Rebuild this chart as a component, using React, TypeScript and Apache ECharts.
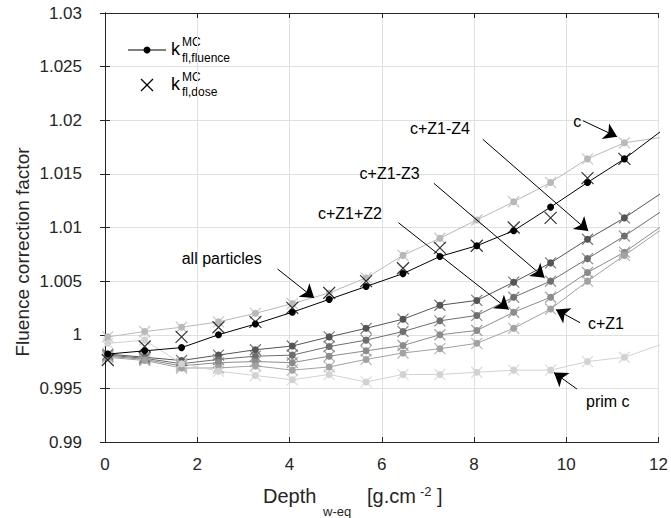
import React, { useEffect, useRef } from "react";
import * as echarts from "echarts";

// Depth (g/cm^2, water-equivalent)
const depth = [0.06, 0.86, 1.66, 2.46, 3.26, 4.06, 4.86, 5.66, 6.46, 7.26, 8.06, 8.86, 9.66, 10.46, 11.26, 12.06];

// all particles
const allFluence = [0.9982, 0.9985, 0.9988, 1.0, 1.001, 1.0021, 1.0033, 1.0045, 1.0057, 1.0073, 1.0083, 1.0097, 1.0119, 1.0142, 1.0164, 1.019];
const allDose = [0.99765, 0.9989, 0.9998, 1.0007, 1.0012, 1.0025, 1.0039, 1.005, 1.0062, 1.0081, 1.0083, 1.01, 1.0109, 1.0146, 1.0164];

// fragment contributions
const cVals = [0.9998, 1.0003, 1.0007, 1.0012, 1.002, 1.0029, 1.0039, 1.0053, 1.0074, 1.009, 1.0107, 1.0124, 1.0142, 1.0164, 1.0179, 1.0184];
const z4Vals = [0.9982, 0.9979, 0.9976, 0.9981, 0.9986, 0.99895, 0.9998, 1.0006, 1.00145, 1.00275, 1.0032, 1.0049, 1.0067, 1.0089, 1.0109, 1.0132];
const z3Vals = [0.9981, 0.9978, 0.9973, 0.9977, 0.998, 0.9981, 0.9989, 0.9995, 1.0003, 1.0013, 1.0018, 1.0035, 1.005, 1.0071, 1.0092, 1.0115];
const z12Vals = [0.998, 0.9977, 0.9971, 0.9974, 0.9975, 0.9974, 0.998, 0.9985, 0.999, 1.0, 1.0004, 1.0021, 1.0035, 1.0058, 1.0077, 1.0101];
const z1Vals = [0.9979, 0.9976, 0.9969, 0.9969, 0.9971, 0.9967, 0.997, 0.9977, 0.9983, 0.9987, 0.9992, 1.0006, 1.0024, 1.005, 1.0074, 1.0098];
const primVals = [0.9992, 0.9995, 0.9973, 0.9966, 0.9962, 0.9958, 0.9963, 0.9956, 0.9963, 0.9963, 0.9965, 0.9967, 0.9967, 0.9975, 0.9979, 0.9991];

const grayNames = ["c", "c+Z1-Z4", "c+Z1-Z3", "c+Z1+Z2", "c+Z1", "prim c"];
const grayData = [cVals, z4Vals, z3Vals, z12Vals, z1Vals, primVals];
const grayColors = ["#b9b9b9", "#555555", "#6f6f6f", "#8c8c8c", "#a2a2a2", "#d2d2d2"];

// annotations (data coordinates)
const labelTexts = ["all particles", "c+Z1+Z2", "c+Z1-Z3", "c+Z1-Z4", "c", "c+Z1", "prim c"];
const labelX = [2.53, 5.31, 6.17, 7.26, 10.24, 10.86, 10.9];
const labelY = [1.00713, 1.01135, 1.01508, 1.01925, 1.01993, 1.00109, 0.99382];
const arrowFromX = [3.74, 6.36, 7.13, 8.19, 10.36, 10.3, 10.23];
const arrowFromY = [1.00613, 1.01045, 1.01412, 1.01822, 1.01996, 1.00112, 0.99494];
const arrowToX = [4.535, 8.753, 9.529, 10.477, 11.103, 9.776, 9.733];
const arrowToY = [1.00342, 1.002345, 1.00531, 1.009664, 1.018457, 1.002345, 0.99648];

const xTickStep = 2;
const yTickStep = 0.005;

const FONT = "'Liberation Sans', Arial, Helvetica, sans-serif";
const XSYM = "path://M0,0L10,10M10,0L0,10";

export default function App() {
  const ref = useRef<HTMLDivElement>(null);
  useEffect(() => {
    if (!ref.current) return;
    const chart = echarts.init(ref.current, undefined, { renderer: "svg" });
    const zip = (ys: number[]) => ys.map((y, i) => [depth[i], y]);
    const series: any[] = [];
    grayData.forEach((vals, k) => {
      series.push({
        type: "line",
        name: grayNames[k] + " fluence",
        data: zip(vals),
        symbol: "circle",
        symbolSize: 7,
        showAllSymbol: true,
        lineStyle: { color: grayColors[k], width: 1 },
        itemStyle: { color: grayColors[k] },
        clip: true,
        z: 2,
        silent: true,
      });
      series.push({
        type: "scatter",
        name: grayNames[k] + " dose",
        data: zip(vals),
        symbol: XSYM,
        symbolSize: 11,
        itemStyle: { color: "none", borderColor: grayColors[k], borderWidth: 1.2 },
        clip: true,
        z: 2,
        silent: true,
      });
    });
    series.push({
      type: "line",
      name: "all fluence",
      data: zip(allFluence),
      symbol: "circle",
      symbolSize: 7,
      showAllSymbol: true,
      lineStyle: { color: "#000", width: 1 },
      itemStyle: { color: "#000" },
      clip: true,
      z: 3,
      silent: true,
      markLine: {
        silent: true,
        symbol: ["none", "arrow"],
        symbolSize: 13,
        label: { show: false },
        lineStyle: { color: "#000", width: 1, type: "solid" },
        itemStyle: { color: "#000" },
        data: labelTexts.map((_, i) => [
          { coord: [arrowFromX[i], arrowFromY[i]], symbol: "none" },
          { coord: [arrowToX[i], arrowToY[i]], symbol: "arrow", symbolSize: 13 },
        ]),
      },
      markPoint: {
        silent: true,
        symbol: "rect",
        symbolSize: 1,
        itemStyle: { color: "transparent" },
        label: { show: true, position: "inside", formatter: "{b}", color: "#000", fontSize: 16, fontFamily: FONT },
        data: labelTexts.map((t, i) => ({ name: t, coord: [labelX[i], labelY[i]] })),
      },
    });
    series.push({
      type: "scatter",
      name: "all dose",
      data: zip(allDose),
      symbol: XSYM,
      symbolSize: 12,
      itemStyle: { color: "none", borderColor: "#000", borderWidth: 1.2 },
      clip: true,
      z: 3,
      silent: true,
    });

    const axisCommon = {
      axisLine: { show: true, lineStyle: { color: "#262626", width: 1 } },
      axisTick: { show: true, inside: true, length: 5, lineStyle: { color: "#262626" } },
    };

    chart.setOption({
      animation: false,
      backgroundColor: "#fff",
      grid: { left: 105, right: 8, top: 13, bottom: 76, containLabel: false },
      xAxis: [
        {
          type: "value",
          min: 0,
          max: 12,
          interval: xTickStep,
          position: "bottom",
          ...axisCommon,
          axisLabel: { color: "#262626", fontSize: 17, fontFamily: FONT, margin: 14 },
          splitLine: { show: true, lineStyle: { color: "#e0e0e0", width: 1 } },
        },
        {
          type: "value",
          min: 0,
          max: 12,
          interval: xTickStep,
          position: "top",
          ...axisCommon,
          axisLabel: { show: false },
          splitLine: { show: false },
        },
      ],
      yAxis: [
        {
          type: "value",
          min: 0.99,
          max: 1.03,
          interval: yTickStep,
          position: "left",
          ...axisCommon,
          axisLabel: {
            color: "#262626",
            fontSize: 17,
            fontFamily: FONT,
            margin: 23,
            formatter: (v: number) => String(+v.toFixed(3)),
          },
          splitLine: { show: true, lineStyle: { color: "#e0e0e0", width: 1 } },
        },
        {
          type: "value",
          min: 0.99,
          max: 1.03,
          interval: yTickStep,
          position: "right",
          ...axisCommon,
          axisLabel: { show: false },
          splitLine: { show: false },
        },
      ],
      series,
      graphic: [
        {
          type: "text",
          x: 22,
          y: 252,
          rotation: Math.PI / 2,
          style: { text: "Fluence correction factor", font: `19px ${FONT}`, fill: "#262626", align: "center", verticalAlign: "middle" },
        },
        { type: "text", x: 263, y: 496, style: { text: "Depth", font: `20px ${FONT}`, fill: "#262626", align: "left", verticalAlign: "middle" } },
        { type: "text", x: 323, y: 511, style: { text: "w-eq", font: `13px ${FONT}`, fill: "#262626", align: "left", verticalAlign: "middle" } },
        { type: "text", x: 367, y: 496, style: { text: "[g.cm", font: `20px ${FONT}`, fill: "#262626", align: "left", verticalAlign: "middle" } },
        { type: "text", x: 420, y: 491, style: { text: "-2", font: `13px ${FONT}`, fill: "#262626", align: "left", verticalAlign: "middle" } },
        { type: "text", x: 437, y: 496, style: { text: "]", font: `20px ${FONT}`, fill: "#262626", align: "left", verticalAlign: "middle" } },
        // legend
        { type: "line", shape: { x1: 128, y1: 50, x2: 166, y2: 50 }, style: { stroke: "#000", lineWidth: 1 } },
        { type: "circle", shape: { cx: 147, cy: 50, r: 3.5 }, style: { fill: "#000" } },
        { type: "text", x: 171, y: 49, style: { text: "k", font: `18px ${FONT}`, fill: "#000", align: "left", verticalAlign: "middle" } },
        { type: "text", x: 182, y: 42, style: { text: "MC", font: `12px ${FONT}`, fill: "#000", align: "left", verticalAlign: "middle" } },
        { type: "text", x: 182, y: 58, style: { text: "fl,fluence", font: `12px ${FONT}`, fill: "#000", align: "left", verticalAlign: "middle" } },
        { type: "line", shape: { x1: 141, y1: 79, x2: 153, y2: 91 }, style: { stroke: "#000", lineWidth: 1.2 } },
        { type: "line", shape: { x1: 153, y1: 79, x2: 141, y2: 91 }, style: { stroke: "#000", lineWidth: 1.2 } },
        { type: "text", x: 171, y: 84, style: { text: "k", font: `18px ${FONT}`, fill: "#000", align: "left", verticalAlign: "middle" } },
        { type: "text", x: 182, y: 77, style: { text: "MC", font: `12px ${FONT}`, fill: "#000", align: "left", verticalAlign: "middle" } },
        { type: "text", x: 182, y: 92, style: { text: "fl,dose", font: `12px ${FONT}`, fill: "#000", align: "left", verticalAlign: "middle" } },
      ],
    });
    return () => chart.dispose();
  }, []);
  return <div ref={ref} style={{ width: 671, height: 518, position: "absolute", left: 0, top: 0 }} />;
}
